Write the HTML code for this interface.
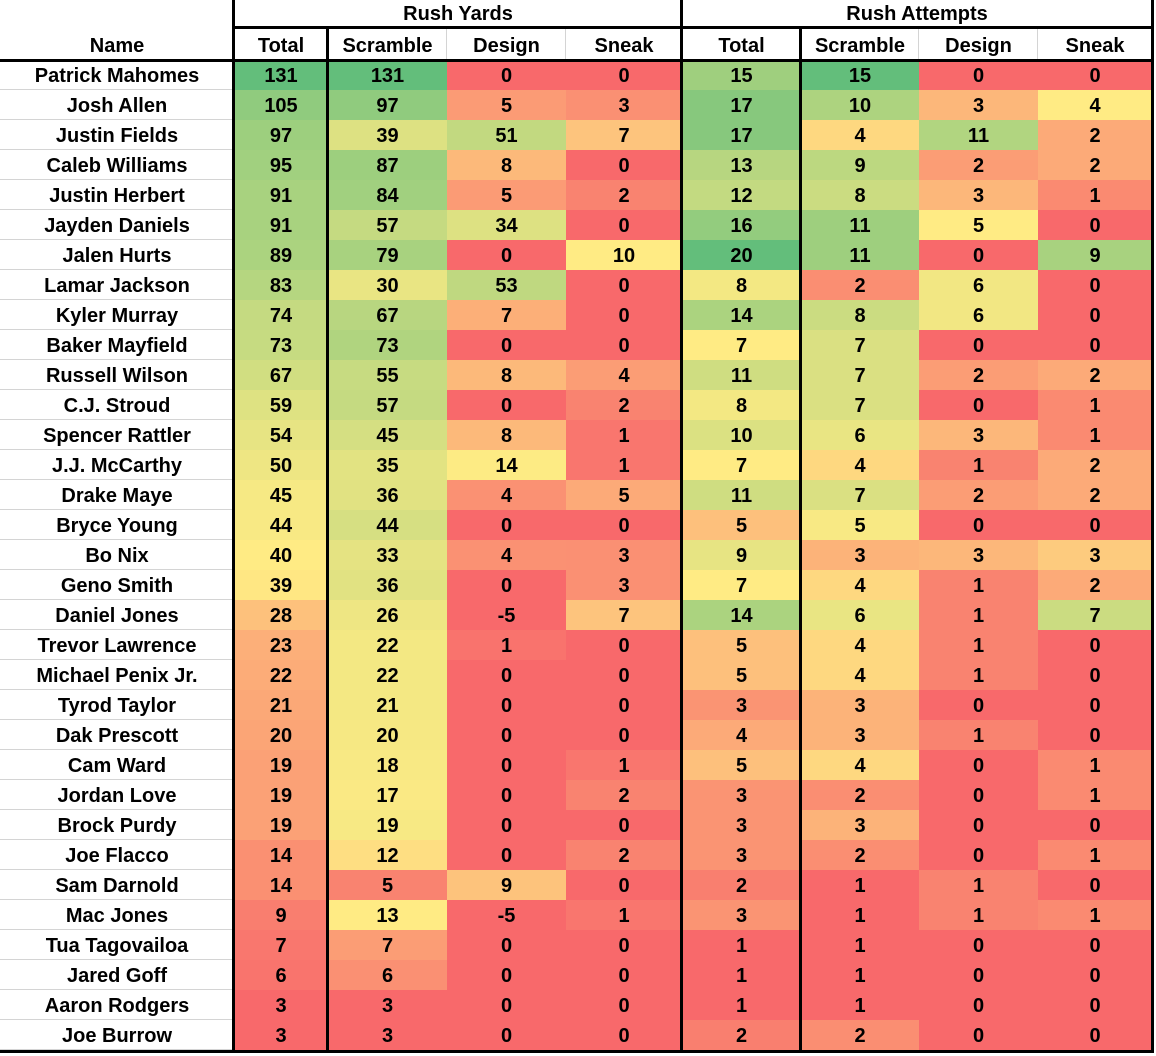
<!DOCTYPE html>
<html><head><meta charset="utf-8"><style>
html,body{margin:0;padding:0;background:#fff;width:1156px;height:1056px;overflow:hidden}
table{position:absolute;left:0;top:0;border-collapse:separate;border-spacing:0;table-layout:fixed;width:1152px;font-family:"Liberation Sans",Arial,sans-serif;font-weight:bold;font-size:20px;color:#000}
td{padding:0;text-align:center;white-space:nowrap;overflow:hidden;line-height:26px}
tr.h1{height:27px}
tr.h2{height:33px}
tr.h2 td{padding-top:4px}
tr.d{height:30px}
tr.d td{padding-top:2px}
tr.d td:first-child{box-shadow:inset 0 -1px 0 #d4d4d4}
tr.h2 td.g{box-shadow:inset -1px 0 0 #d4d4d4}
.v{position:absolute;background:#000;width:3px}
.hz{position:absolute;background:#000;height:3px}
</style></head><body>
<table>
<colgroup><col style="width:234px"><col style="width:94px"><col style="width:119px"><col style="width:119px"><col style="width:116px"><col style="width:119px"><col style="width:118px"><col style="width:119px"><col style="width:114px"></colgroup>
<tr class="h1"><td></td><td colspan="4">Rush Yards</td><td colspan="4">Rush Attempts</td></tr>
<tr class="h2"><td>Name</td><td>Total</td><td class="g">Scramble</td><td class="g">Design</td><td>Sneak</td><td>Total</td><td class="g">Scramble</td><td class="g">Design</td><td>Sneak</td></tr>
<tr class="d"><td>Patrick Mahomes</td><td>131</td><td>131</td><td>0</td><td>0</td><td>15</td><td>15</td><td>0</td><td>0</td></tr>
<tr class="d"><td>Josh Allen</td><td>105</td><td>97</td><td>5</td><td>3</td><td>17</td><td>10</td><td>3</td><td>4</td></tr>
<tr class="d"><td>Justin Fields</td><td>97</td><td>39</td><td>51</td><td>7</td><td>17</td><td>4</td><td>11</td><td>2</td></tr>
<tr class="d"><td>Caleb Williams</td><td>95</td><td>87</td><td>8</td><td>0</td><td>13</td><td>9</td><td>2</td><td>2</td></tr>
<tr class="d"><td>Justin Herbert</td><td>91</td><td>84</td><td>5</td><td>2</td><td>12</td><td>8</td><td>3</td><td>1</td></tr>
<tr class="d"><td>Jayden Daniels</td><td>91</td><td>57</td><td>34</td><td>0</td><td>16</td><td>11</td><td>5</td><td>0</td></tr>
<tr class="d"><td>Jalen Hurts</td><td>89</td><td>79</td><td>0</td><td>10</td><td>20</td><td>11</td><td>0</td><td>9</td></tr>
<tr class="d"><td>Lamar Jackson</td><td>83</td><td>30</td><td>53</td><td>0</td><td>8</td><td>2</td><td>6</td><td>0</td></tr>
<tr class="d"><td>Kyler Murray</td><td>74</td><td>67</td><td>7</td><td>0</td><td>14</td><td>8</td><td>6</td><td>0</td></tr>
<tr class="d"><td>Baker Mayfield</td><td>73</td><td>73</td><td>0</td><td>0</td><td>7</td><td>7</td><td>0</td><td>0</td></tr>
<tr class="d"><td>Russell Wilson</td><td>67</td><td>55</td><td>8</td><td>4</td><td>11</td><td>7</td><td>2</td><td>2</td></tr>
<tr class="d"><td>C.J. Stroud</td><td>59</td><td>57</td><td>0</td><td>2</td><td>8</td><td>7</td><td>0</td><td>1</td></tr>
<tr class="d"><td>Spencer Rattler</td><td>54</td><td>45</td><td>8</td><td>1</td><td>10</td><td>6</td><td>3</td><td>1</td></tr>
<tr class="d"><td>J.J. McCarthy</td><td>50</td><td>35</td><td>14</td><td>1</td><td>7</td><td>4</td><td>1</td><td>2</td></tr>
<tr class="d"><td>Drake Maye</td><td>45</td><td>36</td><td>4</td><td>5</td><td>11</td><td>7</td><td>2</td><td>2</td></tr>
<tr class="d"><td>Bryce Young</td><td>44</td><td>44</td><td>0</td><td>0</td><td>5</td><td>5</td><td>0</td><td>0</td></tr>
<tr class="d"><td>Bo Nix</td><td>40</td><td>33</td><td>4</td><td>3</td><td>9</td><td>3</td><td>3</td><td>3</td></tr>
<tr class="d"><td>Geno Smith</td><td>39</td><td>36</td><td>0</td><td>3</td><td>7</td><td>4</td><td>1</td><td>2</td></tr>
<tr class="d"><td>Daniel Jones</td><td>28</td><td>26</td><td>-5</td><td>7</td><td>14</td><td>6</td><td>1</td><td>7</td></tr>
<tr class="d"><td>Trevor Lawrence</td><td>23</td><td>22</td><td>1</td><td>0</td><td>5</td><td>4</td><td>1</td><td>0</td></tr>
<tr class="d"><td>Michael Penix Jr.</td><td>22</td><td>22</td><td>0</td><td>0</td><td>5</td><td>4</td><td>1</td><td>0</td></tr>
<tr class="d"><td>Tyrod Taylor</td><td>21</td><td>21</td><td>0</td><td>0</td><td>3</td><td>3</td><td>0</td><td>0</td></tr>
<tr class="d"><td>Dak Prescott</td><td>20</td><td>20</td><td>0</td><td>0</td><td>4</td><td>3</td><td>1</td><td>0</td></tr>
<tr class="d"><td>Cam Ward</td><td>19</td><td>18</td><td>0</td><td>1</td><td>5</td><td>4</td><td>0</td><td>1</td></tr>
<tr class="d"><td>Jordan Love</td><td>19</td><td>17</td><td>0</td><td>2</td><td>3</td><td>2</td><td>0</td><td>1</td></tr>
<tr class="d"><td>Brock Purdy</td><td>19</td><td>19</td><td>0</td><td>0</td><td>3</td><td>3</td><td>0</td><td>0</td></tr>
<tr class="d"><td>Joe Flacco</td><td>14</td><td>12</td><td>0</td><td>2</td><td>3</td><td>2</td><td>0</td><td>1</td></tr>
<tr class="d"><td>Sam Darnold</td><td>14</td><td>5</td><td>9</td><td>0</td><td>2</td><td>1</td><td>1</td><td>0</td></tr>
<tr class="d"><td>Mac Jones</td><td>9</td><td>13</td><td>-5</td><td>1</td><td>3</td><td>1</td><td>1</td><td>1</td></tr>
<tr class="d"><td>Tua Tagovailoa</td><td>7</td><td>7</td><td>0</td><td>0</td><td>1</td><td>1</td><td>0</td><td>0</td></tr>
<tr class="d"><td>Jared Goff</td><td>6</td><td>6</td><td>0</td><td>0</td><td>1</td><td>1</td><td>0</td><td>0</td></tr>
<tr class="d"><td>Aaron Rodgers</td><td>3</td><td>3</td><td>0</td><td>0</td><td>1</td><td>1</td><td>0</td><td>0</td></tr>
<tr class="d"><td>Joe Burrow</td><td>3</td><td>3</td><td>0</td><td>0</td><td>2</td><td>2</td><td>0</td><td>0</td></tr>
</table>
<div class="v" style="left:232px;top:0;height:1053px"></div>
<div class="v" style="left:326px;top:27px;height:1026px"></div>
<div class="v" style="left:680px;top:0;height:1053px"></div>
<div class="v" style="left:799px;top:27px;height:1026px"></div>
<div class="v" style="left:1151px;top:0;height:1053px"></div>
<div class="hz" style="left:232px;top:26px;width:922px"></div>
<div class="hz" style="left:0;top:59px;width:1154px"></div>
<div class="hz" style="left:0;top:1050px;width:1154px"></div>
<script>
var A=[null,[3,40,131],[3,13,131],[0,13,110],[0,10,30],[1,7,20],[1,4.5,15],[0,5,17],[0,4,13]];
var R=[248,105,107],Y=[255,235,132],G=[99,190,123];
function mix(a,b,t){t=Math.max(0,Math.min(1,t));return 'rgb('+a.map(function(v,i){return Math.round(v+(b[i]-v)*t)}).join(',')+')';}
document.querySelectorAll('tr.d').forEach(function(tr){
 var tds=tr.children;
 for(var i=1;i<tds.length;i++){var v=parseFloat(tds[i].textContent),a=A[i],c;
  if(v<=a[1])c=mix(R,Y,(v-a[0])/(a[1]-a[0]));else c=mix(Y,G,(v-a[1])/(a[2]-a[1]));
  tds[i].style.background=c;}
});
</script>
</body></html>
